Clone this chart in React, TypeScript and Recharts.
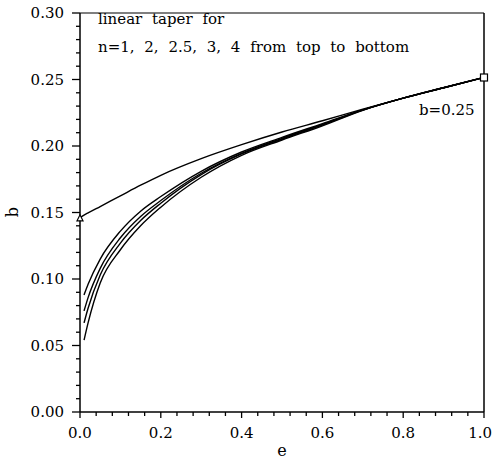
import React from "react";
import { ComposedChart, Line, XAxis, YAxis, ReferenceLine, ReferenceDot } from "recharts";

// e values along the x axis
const eValues = [0, 0.01, 0.02, 0.05, 0.1, 0.15, 0.2, 0.3, 0.4, 0.5, 0.6, 0.7, 0.8, 0.9, 1.0];

// b for each taper exponent n
const bN1 = [0.146, 0.148, 0.1497, 0.1545, 0.1625, 0.1705, 0.178, 0.1905, 0.201, 0.2105, 0.219, 0.2277, 0.236, 0.2438, 0.2515];
const bN2 = [null, 0.088, 0.096, 0.115, 0.136, 0.151, 0.162, 0.181, 0.1955, 0.2065, 0.2168, 0.2272, 0.236, 0.2438, 0.2515];
const bN25 = [null, 0.076, 0.086, 0.108, 0.131, 0.147, 0.159, 0.1795, 0.1945, 0.2058, 0.2163, 0.2271, 0.236, 0.2438, 0.2515];
const bN3 = [null, 0.067, 0.078, 0.103, 0.127, 0.144, 0.157, 0.1785, 0.194, 0.2052, 0.2158, 0.227, 0.236, 0.2438, 0.2515];
const bN4 = [null, 0.054, 0.067, 0.097, 0.122, 0.14, 0.154, 0.1765, 0.193, 0.2045, 0.2152, 0.2269, 0.236, 0.2438, 0.2515];

const xTicks = Array.from({ length: 26 }, (_, i) => +(i * 0.04).toFixed(2));
const yTicks = Array.from({ length: 31 }, (_, i) => +(i * 0.01).toFixed(2));

const startMark = { e: 0, b: 0.146 };
const endMark = { e: 1, b: 0.2515 };

const data = eValues.map((e, i) => ({
  e,
  n1: bN1[i],
  n2: bN2[i],
  n25: bN25[i],
  n3: bN3[i],
  n4: bN4[i],
}));

const FONT = "'DejaVu Serif', serif";

const XTick = (props: any) => {
  const { x, y, payload } = props;
  const v = payload.value;
  const major = Math.round(v * 100) % 20 === 0;
  const last = v >= 1;
  return (
    <g>
      <line x1={x} x2={x} y1={y} y2={y + (major ? 6 : 4)} stroke="#000" strokeWidth={1.3} />
      {major && (
        <text
          x={last ? 492 : x}
          y={y + 26}
          textAnchor={last ? "end" : "middle"}
          fontFamily={FONT}
          fontSize={15}
          fill="#000"
        >
          {v.toFixed(1)}
        </text>
      )}
    </g>
  );
};

const YTick = (props: any) => {
  const { x, y, payload } = props;
  const v = payload.value;
  const major = Math.round(v * 100) % 5 === 0;
  return (
    <g>
      <line x1={x - (major ? 8 : 4)} x2={x} y1={y} y2={y} stroke="#000" strokeWidth={1.3} />
      {major && (
        <text x={x - 16} y={y} dy="0.36em" textAnchor="end" fontFamily={FONT} fontSize={15} fill="#000">
          {v.toFixed(2)}
        </text>
      )}
    </g>
  );
};

const Triangle = (props: any) => {
  const { cx, cy } = props;
  return <path d={`M${cx - 3},${cy + 3} L${cx + 3},${cy + 3} L${cx},${cy - 3} Z`} fill="#fff" stroke="#000" strokeWidth={1.2} />;
};

const Square = (props: any) => {
  const { cx, cy } = props;
  return <rect x={cx - 3.5} y={cy - 3.5} width={7} height={7} fill="#fff" stroke="#000" strokeWidth={1.2} />;
};

const series = ["n1", "n2", "n25", "n3", "n4"];

export default function App() {
  return (
    <div style={{ position: "absolute", left: 0, top: 0, width: 493, height: 462, background: "#fff" }}>
      <ComposedChart width={493} height={462} data={data} margin={{ top: 13, right: 9, left: 0, bottom: 0 }}>
        <XAxis
          dataKey="e"
          type="number"
          domain={[0, 1]}
          ticks={xTicks}
          interval={0}
          tickSize={0}
          tickMargin={0}
          tickLine={false}
          tick={<XTick />}
          height={50}
          axisLine={{ stroke: "#000", strokeWidth: 1.5 }}
        />
        <YAxis
          type="number"
          domain={[0, 0.3]}
          ticks={yTicks}
          interval={0}
          tickSize={0}
          tickMargin={0}
          tickLine={false}
          tick={<YTick />}
          width={80}
          axisLine={{ stroke: "#000", strokeWidth: 1.5 }}
        />
        <ReferenceLine y={0.3} stroke="#000" strokeWidth={1.2} />
        <ReferenceLine x={1} stroke="#000" strokeWidth={1.5} />
        {series.map((k) => (
          <Line
            key={k}
            dataKey={k}
            type="monotone"
            stroke="#000"
            strokeWidth={1.4}
            dot={false}
            activeDot={false}
            isAnimationActive={false}
          />
        ))}
        <ReferenceDot x={startMark.e} y={startMark.b} shape={<Triangle />} ifOverflow="visible" />
        <ReferenceDot x={endMark.e} y={endMark.b} shape={<Square />} ifOverflow="visible" />
      </ComposedChart>
      <svg width={493} height={462} style={{ position: "absolute", left: 0, top: 0, pointerEvents: "none" }}>
        <g fontFamily={FONT} fontSize={15} fill="#000">
          <text x={98} y={24} style={{ wordSpacing: 5 }}>linear taper for</text>
          <text x={98} y={52} style={{ wordSpacing: 5 }}>n=1, 2, 2.5, 3, 4 from top to bottom</text>
          <text x={419} y={115}>b=0.25</text>
          <text x={282} y={456} textAnchor="middle" fontSize={16}>e</text>
          <text x={18} y={212} textAnchor="middle" fontSize={16} transform="rotate(-90 18 212)">b</text>
        </g>
      </svg>
    </div>
  );
}
